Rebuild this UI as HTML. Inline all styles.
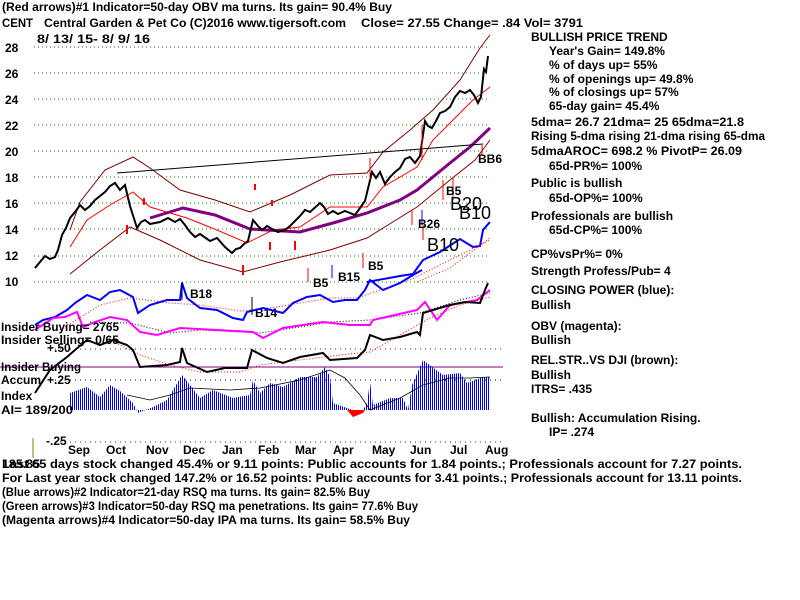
<!DOCTYPE html>
<html><head><meta charset="utf-8"><style>
html,body{margin:0;padding:0;background:#fff;}
svg{display:block;font-family:"Liberation Sans",sans-serif;font-weight:bold;}
</style></head><body>
<svg width="800" height="600" viewBox="0 0 800 600" xmlns="http://www.w3.org/2000/svg">
<defs>
<pattern id="st" width="2" height="4" patternUnits="userSpaceOnUse"><rect x="0" y="0" width="1" height="4" fill="#0000ff"/></pattern>
</defs>
<rect width="800" height="600" fill="#fff"/>
<g font-size="12" fill="#000">
<text x="2" y="11" textLength="390" lengthAdjust="spacingAndGlyphs">(Red arrows)#1 Indicator=50-day OBV ma turns. Its gain= 90.4% Buy</text>
<text x="2" y="27" textLength="31" lengthAdjust="spacingAndGlyphs">CENT</text>
<text x="44" y="27" textLength="302" lengthAdjust="spacingAndGlyphs">Central Garden &amp; Pet Co  (C)2016 www.tigersoft.com</text>
<text x="361" y="27" textLength="222" lengthAdjust="spacingAndGlyphs">Close=  27.55  Change= .84  Vol= 3791</text>
<text x="37" y="43" textLength="113" lengthAdjust="spacingAndGlyphs">8/ 13/ 15- 8/ 9/ 16</text>
<text x="5" y="52">28</text><text x="5" y="78">26</text><text x="5" y="104">24</text>
<text x="5" y="130">22</text><text x="5" y="156">20</text><text x="5" y="182">18</text>
<text x="5" y="208">16</text><text x="5" y="234">14</text><text x="5" y="260">12</text>
<text x="5" y="286">10</text>
</g>
<g stroke="#008000" stroke-dasharray="1,3" stroke-width="1">
<line x1="34" y1="47" x2="490" y2="47"/><line x1="34" y1="73" x2="490" y2="73"/>
<line x1="34" y1="99" x2="490" y2="99"/><line x1="34" y1="125" x2="490" y2="125"/>
<line x1="34" y1="151" x2="490" y2="151"/><line x1="34" y1="177" x2="490" y2="177"/>
<line x1="34" y1="203" x2="490" y2="203"/><line x1="34" y1="229" x2="490" y2="229"/>
<line x1="34" y1="256" x2="490" y2="256"/><line x1="34" y1="282" x2="490" y2="282"/>
</g>
<polyline fill="none" stroke="#800000" stroke-width="1" points="70,274 100,250 130,227 160,240 200,260 243,272 280,262 330,250 367,238 417,207 450,180 475,160 490,140"/>
<polyline fill="none" stroke="#800000" stroke-width="1" points="70,230 80,202 105,170 133,157 150,168 180,190 215,200 250,212 290,195 330,175 367,173 383,152 410,130 433,110 460,80 480,48 490,35"/>
<polyline fill="none" stroke="#ff0000" stroke-width="1" points="70,247 87,220 110,205 133,192 150,207 187,218 217,230 247,243 273,230 300,227 330,207 367,207 383,187 417,167 433,140 455,118 473,100 490,87"/>
<polyline fill="none" stroke="#800080" stroke-width="3" points="150,218 183,208 215,215 250,229 300,232 333,223 367,213 400,200 417,190 450,163 470,147 490,128"/>
<line x1="117" y1="173" x2="483" y2="144" stroke="#000" stroke-width="1"/>
<polyline fill="none" stroke="#000" stroke-width="2" points="35,268 40,262 45,256 50,259 55,257 58,250 62,235 66,228 70,218 75,212 80,205 85,210 90,206 95,200 100,196 105,192 110,186 115,183 120,190 125,185 130,206 137,228 141,222 145,220 150,224 160,222 168,218 175,222 180,219 185,225 190,232 195,237 200,234 210,241 217,238 225,247 232,253 236,249 240,248 244,244 248,241 253,220 258,226 262,230 267,226 272,229 278,232 285,230 290,226 295,221 300,216 305,210 310,212 320,203 324,207 328,214 333,211 338,214 345,211 350,213 355,215 360,208 365,201 372,172 376,178 380,172 385,184 390,177 395,172 400,168 405,159 410,157 415,163 420,156 425,121 428,126 432,128 436,121 440,113 445,111 450,107 455,97 460,91 465,93 470,90 474,95 478,103 481,97 484,69 486,72 488,56"/>
<polyline fill="none" stroke="#0000ff" stroke-width="2" points="367,282 400,276 413,274 423,260 440,252 460,239 473,247 480,246 483,230 490,222"/>
<polyline fill="none" stroke="#ff0000" stroke-dasharray="1,2" points="417,282 450,268 490,238"/>
<g stroke="#ff0000" fill="#ff0000" stroke-width="2">
<line x1="127" y1="234" x2="127" y2="225"/><line x1="270" y1="250" x2="270" y2="242"/><line x1="295" y1="250" x2="295" y2="241"/>
<line x1="243" y1="275" x2="243" y2="265"/><line x1="255" y1="190" x2="255" y2="184"/><line x1="272" y1="206" x2="272" y2="200"/><line x1="144" y1="205" x2="144" y2="198"/>
</g>
<g stroke="#ff0000" stroke-width="1" fill="none">
<line x1="308" y1="282" x2="308" y2="268"/><line x1="363" y1="268" x2="363" y2="253"/><line x1="412" y1="225" x2="412" y2="210"/>
<line x1="423" y1="240" x2="423" y2="225"/><line x1="443" y1="200" x2="443" y2="180"/><line x1="453" y1="200" x2="453" y2="178"/>
<line x1="422" y1="160" x2="422" y2="125"/><line x1="370" y1="180" x2="370" y2="158"/><line x1="482" y1="155" x2="482" y2="145"/>
</g>
<g font-size="12" fill="#000">
<text x="313" y="287">B5</text><text x="338" y="281">B15</text><text x="368" y="270">B5</text>
<text x="418" y="228">B26</text><text x="446" y="195">B5</text><text x="478" y="163">BB6</text>
<text x="190" y="298">B18</text><text x="255" y="317">B14</text>
</g>
<g font-size="18" font-weight="normal" fill="#000">
<text x="427" y="251">B10</text><text x="450" y="210">B20</text><text x="459" y="219">B10</text>
</g>
<line x1="332" y1="278" x2="332" y2="265" stroke="#0000ff"/><line x1="422" y1="225" x2="422" y2="210" stroke="#0000ff"/>
<line x1="0" y1="367" x2="503" y2="367" stroke="#800080" stroke-width="1"/>
<line x1="55" y1="349" x2="503" y2="349" stroke="#800080" stroke-dasharray="1,4"/>
<line x1="55" y1="380" x2="503" y2="380" stroke="#000" stroke-dasharray="1,4"/>
<line x1="55" y1="442" x2="503" y2="442" stroke="#800080" stroke-dasharray="1,4"/>
<line x1="33" y1="438" x2="33" y2="458" stroke="#808000"/>
<polygon fill="url(#st)" points="70,410 70,393 87,387 100,397 110,385 120,391 133,403 138,413 153,407 167,400 182,375 190,385 200,398 213,390 233,398 250,395 253,380 260,393 270,383 283,387 300,377 317,377 325,367 330,377 333,403 347,408 353,410 363,410 367,403 370,382 373,405 390,398 403,398 408,410 412,385 423,360 443,375 460,373 467,383 483,377 490,377 490,410"/>
<polygon fill="#ff0000" points="347,410 353,417 363,413 365,410"/>
<polyline fill="none" stroke="#000" stroke-width="0.8" points="127,395 150,400 170,395 190,388 230,390 260,388 300,380 330,370 345,378 360,395 370,410 400,398 423,385 450,378 470,378 490,377"/>
<polyline fill="none" stroke="#ff0000" stroke-dasharray="1,2" points="60,330 100,305 130,298 170,303 200,305 240,311 270,308 300,303 330,298 357,298 380,290 410,280 440,265 490,240"/>
<polyline fill="none" stroke="#0000ff" stroke-width="2" points="35,325 43,320 55,317 67,310 75,303 87,295 100,300 110,292 120,290 133,297 138,313 150,305 167,300 180,300 182,283 187,298 200,308 217,310 233,318 243,320 247,312 263,308 283,313 293,303 307,297 320,295 333,302 345,300 357,300 365,290 370,280 383,290 400,283 413,275 422,270"/>
<polyline fill="none" stroke="#000" stroke-dasharray="1,2" points="90,322 130,323 170,333 200,330 260,333 300,327 330,322 370,320 420,313 460,300 490,293"/>
<polyline fill="none" stroke="#ff00ff" stroke-width="2" points="35,330 53,318 65,317 77,312 83,327 95,322 110,317 127,320 140,332 157,335 180,328 217,330 253,332 263,338 283,328 323,322 350,325 370,325 373,320 417,310 425,302 437,320 450,305 477,300 490,290"/>
<polyline fill="none" stroke="#ff0000" stroke-dasharray="1,2" points="110,340 140,355 170,365 200,372 240,372 260,365 300,360 340,355 370,352 400,335 430,318 460,305 490,297"/>
<polyline fill="none" stroke="#000" stroke-width="2" points="35,393 50,370 67,357 75,350 87,340 100,345 113,340 127,345 133,350 140,367 167,365 180,362 182,348 187,363 207,372 225,368 247,368 252,350 267,358 283,363 300,357 323,353 330,360 357,358 365,350 370,335 383,340 400,337 417,332 420,335 423,313 433,310 450,305 465,302 480,303 485,290 488,283"/>
<g stroke="#000" stroke-width="1"><line x1="182" y1="300" x2="182" y2="282"/><line x1="252" y1="315" x2="252" y2="297"/></g>
<g font-size="12" fill="#000">
<text x="1" y="331" textLength="118" lengthAdjust="spacingAndGlyphs">Insider Buying= 2765</text>
<text x="1" y="344" textLength="118" lengthAdjust="spacingAndGlyphs">Insider Selling= 0/65</text>
<text x="47" y="352">+.50</text>
<text x="1" y="371" textLength="80" lengthAdjust="spacingAndGlyphs">Insider Buying</text>
<text x="1" y="384">Accum</text><text x="47" y="384">+.25</text>
<text x="1" y="400">Index</text>
<text x="1" y="414" textLength="72" lengthAdjust="spacingAndGlyphs">AI= 189/200</text>
<text x="46" y="445">-.25</text>
<text x="68" y="454">Sep</text><text x="106" y="454">Oct</text><text x="146" y="454">Nov</text><text x="183" y="454">Dec</text>
<text x="222" y="454">Jan</text><text x="258" y="454">Feb</text><text x="295" y="454">Mar</text><text x="333" y="454">Apr</text>
<text x="372" y="454">May</text><text x="410" y="454">Jun</text><text x="450" y="454">Jul</text><text x="485" y="454">Aug</text>
<text x="2" y="468" textLength="740" lengthAdjust="spacingAndGlyphs">Last 65 days stock changed  45.4% or  9.11 points:  Public accounts for  1.84 points.;  Professionals account for  7.27 points.</text>
<text x="2" y="468" textLength="38" lengthAdjust="spacingAndGlyphs">185.85</text>
<text x="2" y="482" textLength="740" lengthAdjust="spacingAndGlyphs">For Last year stock changed  147.2% or  16.52 points:  Public accounts for  3.41 points.;  Professionals account for  13.11 points.</text>
<text x="2" y="496" textLength="368" lengthAdjust="spacingAndGlyphs">(Blue arrows)#2 Indicator=21-day RSQ ma turns. Its gain= 82.5% Buy</text>
<text x="2" y="510" textLength="416" lengthAdjust="spacingAndGlyphs">(Green arrows)#3 Indicator=50-day RSQ ma penetrations. Its gain= 77.6% Buy</text>
<text x="2" y="524" textLength="408" lengthAdjust="spacingAndGlyphs">(Magenta arrows)#4 Indicator=50-day IPA ma turns. Its gain= 58.5% Buy</text>
</g>
<g font-size="12" fill="#000">
<text x="531" y="41">BULLISH PRICE TREND</text>
<text x="549" y="55">Year's Gain= 149.8%</text>
<text x="549" y="69">% of days up= 55%</text>
<text x="549" y="83">% of openings up= 49.8%</text>
<text x="549" y="96">% of closings up= 57%</text>
<text x="549" y="110">65-day gain= 45.4%</text>
<text x="531" y="126" textLength="213" lengthAdjust="spacingAndGlyphs">5dma= 26.7 21dma= 25 65dma=21.8</text>
<text x="531" y="140" textLength="234" lengthAdjust="spacingAndGlyphs">Rising 5-dma rising 21-dma rising 65-dma</text>
<text x="531" y="155" textLength="211" lengthAdjust="spacingAndGlyphs">5dmaAROC= 698.2 %  PivotP= 26.09</text>
<text x="549" y="170">65d-PR%= 100%</text>
<text x="531" y="187">Public is bullish</text>
<text x="549" y="202">65d-OP%= 100%</text>
<text x="531" y="220">Professionals are bullish</text>
<text x="549" y="234">65d-CP%= 100%</text>
<text x="531" y="258">CP%vsPr%=  0%</text>
<text x="531" y="275">Strength Profess/Pub= 4</text>
<text x="531" y="294">CLOSING POWER (blue):</text>
<text x="531" y="309">Bullish</text>
<text x="531" y="330">OBV (magenta):</text>
<text x="531" y="344">Bullish</text>
<text x="531" y="364">REL.STR..VS DJI (brown):</text>
<text x="531" y="379">Bullish</text>
<text x="531" y="393">ITRS= .435</text>
<text x="531" y="422">Bullish: Accumulation Rising.</text>
<text x="549" y="436">IP=  .274</text>
</g>
</svg>
</body></html>
